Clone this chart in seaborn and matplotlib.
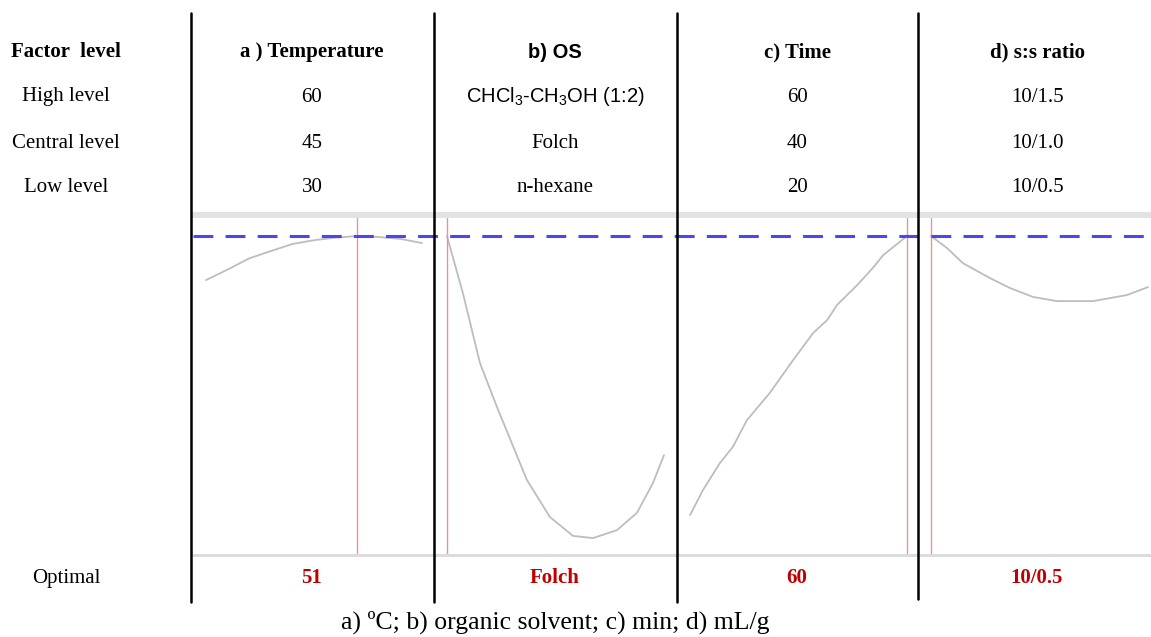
import numpy as np
import pandas as pd
import seaborn as sns
import matplotlib.pyplot as plt
from matplotlib.lines import Line2D

# factor table
headers = ['a ) Temperature', 'b) OS', 'c) Time', 'd) s:s ratio']
row_names = ['High level', 'Central level', 'Low level']
high = ['60', 'CHCl$_3$-CH$_3$OH (1:2)', '60', '10/1.5']
central = ['45', 'Folch', '40', '10/1.0']
low = ['30', 'n-hexane', '20', '10/0.5']
optimal = ['51', 'Folch', '60', '10/0.5']
caption = 'a) ºC; b) organic solvent; c) min; d) mL/g'

# desirability profiles
temp_x = [30, 33, 36, 39, 42, 45, 48, 51, 54, 57, 60]
temp_y = [0.862, 0.895, 0.930, 0.953, 0.975, 0.987, 0.995, 1.0, 0.997, 0.991, 0.978]
os_x = [-1.0, -0.853, -0.696, -0.539, -0.263, -0.051, 0.161, 0.346, 0.567, 0.751, 0.899, 1.0]
os_y = [1.0, 0.821, 0.602, 0.464, 0.235, 0.119, 0.060, 0.053, 0.078, 0.132, 0.226, 0.313]
time_x = [20, 22.4, 25.5, 27.9, 30.5, 34.7, 39.0, 42.7, 45.3, 47.1, 50.8, 53.7, 55.6, 60]
time_y = [0.125, 0.204, 0.288, 0.339, 0.423, 0.508, 0.611, 0.696, 0.737, 0.784, 0.846, 0.900, 0.940, 1.0]
ratio_x = [0.5, 0.574, 0.647, 0.772, 0.864, 0.970, 1.081, 1.247, 1.403, 1.5]
ratio_y = [1.0, 0.962, 0.915, 0.868, 0.837, 0.809, 0.796, 0.796, 0.815, 0.840]
opt_x = [51, -1.0, 60, 0.5]

sns.set_style('white')
plt.rcParams['font.family'] = ['Liberation Serif', 'DejaVu Serif']
plt.rcParams['mathtext.default'] = 'regular'
plt.rcParams['text.color'] = 'black'

W, H = 1151, 637
fig = plt.figure(figsize=(W / 100, H / 100), dpi=100)

def fx(px):
    return px / W

def fy(py):
    return 1 - py / H

# panels (pixel edges) and x limits
panels = [(193, 432, (28.19, 61.39)), (436, 676, (-1.101, 1.111)),
          (679, 917, (17.97, 61.84)), (920, 1151, (0.449, 1.514))]
curves = [(temp_x, temp_y), (os_x, os_y), (time_x, time_y), (ratio_x, ratio_y)]
top_py, bot_py = 215, 555

for (l, r, xl), (cx, cy), ox in zip(panels, curves, opt_x):
    ax = fig.add_axes([fx(l), fy(bot_py), (r - l) / W, (bot_py - top_py) / H])
    df = pd.DataFrame({'x': cx, 'y': cy})
    sns.lineplot(data=df, x='x', y='y', ax=ax, color='#bdbdbd', lw=1.3)
    ax.axvline(ox, ymax=0.99, color='#f29090', lw=1.0)
    ax.set_xlim(*xl)
    ax.set_ylim(0, 1.066)
    ax.set_axis_off()

# gray bands and blue dashed reference line
fig.add_artist(Line2D([fx(193), 1], [fy(215), fy(215)], color='#e3e3e3', lw=4.3))
fig.add_artist(Line2D([fx(193), 1], [fy(555), fy(555)], color='#dcdcdc', lw=2.2))
fig.add_artist(Line2D([fx(193), 1], [fy(236), fy(236)], color='#4848ee', lw=2.2,
                      dashes=(6.5, 4)))

# black column separators
for px, b in zip([191, 434, 677, 918], [602, 602, 602, 599]):
    fig.add_artist(Line2D([fx(px), fx(px)], [fy(13), fy(b)], color='black', lw=1.8))

# table text
col_x = [312, 555, 797, 1037]
fs = 15
fig.text(fx(66), fy(52), 'Factor  level', ha='center', va='center', fontsize=fs, weight='bold')
for name, py in zip(row_names, [97, 143, 188]):
    fig.text(fx(66), fy(py), name, ha='center', va='center', fontsize=fs)
for i, cx in enumerate(col_x):
    fam = ['Liberation Sans'] if i == 1 else ['Liberation Serif']
    hs = 14.5 if i == 1 else fs
    fig.text(fx(cx), fy(52), headers[i], ha='center', va='center', fontsize=hs,
             weight='bold', family=fam)
    fig.text(fx(cx), fy(97), high[i], ha='center', va='center', fontsize=hs, family=fam)
    fig.text(fx(cx), fy(143), central[i], ha='center', va='center', fontsize=fs)
    fig.text(fx(cx), fy(188), low[i], ha='center', va='center', fontsize=fs)
    fig.text(fx(cx), fy(578), optimal[i], ha='center', va='center', fontsize=fs,
             weight='bold', color='#c00000')
fig.text(fx(66), fy(578), 'Optimal', ha='center', va='center', fontsize=fs)
fig.text(fx(555), fy(622), caption, ha='center', va='center', fontsize=18.5)

fig.savefig('out.png', dpi=100)
